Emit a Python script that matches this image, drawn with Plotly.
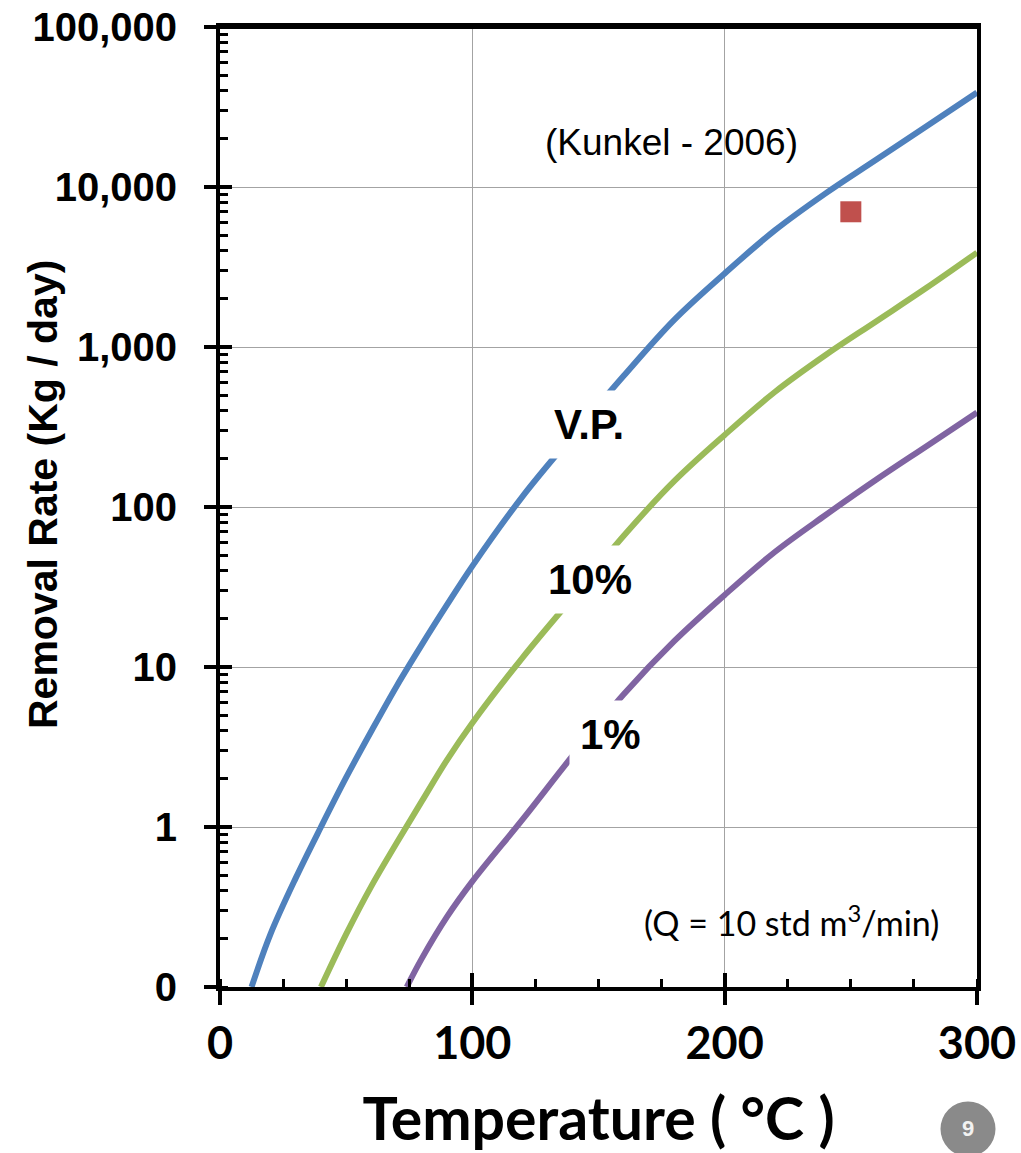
import math
import plotly.graph_objects as go

# ---- data ----
vp_temp = [12.5, 20, 30, 40, 50, 60, 70, 80, 90, 100, 120, 140, 160, 180, 200, 220, 240, 260, 280, 300]
vp_rate = [0.1, 0.214, 0.479, 1.0, 2.04, 3.98, 7.59, 13.8, 24.5, 42.7, 117, 282, 661, 1479, 2884,
           5370, 9120, 14790, 23990, 38900]

p10_temp = [40, 50, 60, 70, 80, 90, 100, 120, 140, 160, 180, 200, 220, 240, 260, 280, 300]
p10_rate = [0.1, 0.214, 0.427, 0.794, 1.45, 2.63, 4.47, 11.5, 27.5, 66.1, 145, 282, 525, 891,
            1445, 2344, 3890]

p1_temp = [74, 80, 90, 100, 120, 140, 160, 180, 200, 220, 240, 260, 280, 300]
p1_rate = [0.1, 0.151, 0.275, 0.457, 1.12, 2.82, 6.76, 14.5, 28.2, 52.5, 89.1, 148, 240, 389]

meas_temp = [250]
meas_rate = [7000]

y_tickvals = [0.1, 1, 10, 100, 1000, 10000, 100000]
x_tickvals = [0, 100, 200, 300]

label_text = ["V.P.", "10%", "1%"]
label_temp = [146.3, 146.5, 154.6]
label_rate = [330, 35, 3.8]

BLUE = "#4F81BD"
GREEN = "#9BBB59"
PURPLE = "#8064A2"
RED = "#C0504D"

ARIAL = "Liberation Sans, Arial, sans-serif"
CALIBRI = "Lato, sans-serif"

fig = go.Figure()
for xs, ys, col, name in [(vp_temp, vp_rate, BLUE, "V.P."),
                          (p10_temp, p10_rate, GREEN, "10%"),
                          (p1_temp, p1_rate, PURPLE, "1%")]:
    fig.add_trace(go.Scatter(x=xs, y=ys, mode="lines", name=name,
                             line=dict(color=col, width=6, shape="spline", smoothing=1.0),
                             showlegend=False))
fig.add_trace(go.Scatter(x=meas_temp, y=meas_rate, mode="markers", name="Measured",
                         marker=dict(symbol="square", size=21, color=RED, line=dict(width=0)),
                         showlegend=False))
# empty trace so the overlay axes (inner half of the crossing major ticks) are drawn
fig.add_trace(go.Scatter(x=[None], y=[None], xaxis="x2", yaxis="y2",
                         showlegend=False, hoverinfo="skip"))

fig.update_layout(
    width=1021, height=1153,
    margin=dict(l=220, r=44, t=27, b=166),
    paper_bgcolor="white", plot_bgcolor="white",
    xaxis=dict(range=[0, 300], tickvals=x_tickvals, ticks="outside", ticklen=14, tickwidth=4,
               tickcolor="black", showline=True, linewidth=4, linecolor="black", mirror=True,
               showgrid=True, gridcolor="#A3A3A3", gridwidth=1.2, zeroline=False,
               automargin=False, ticklabeloverflow="allow",
               tickfont=dict(family=CALIBRI, size=45, color="black", weight="bold"),
               ticklabelstandoff=0,
               minor=dict(dtick=25, tick0=0, ticks="inside", ticklen=8, tickwidth=3,
                          tickcolor="black", showgrid=False),
               title=dict(text="Temperature ( °C )", standoff=35,
                          font=dict(family=CALIBRI, size=59, color="black", weight="bold"))),
    yaxis=dict(type="log", range=[-1, 5], dtick=1, tick0=0, tickformat=",.0f",
               ticks="outside", ticklen=12, tickwidth=4, tickcolor="black",
               showline=True, linewidth=4, linecolor="black", mirror=True,
               showgrid=True, gridcolor="#A3A3A3", gridwidth=1.2, zeroline=False,
               automargin=False, ticklabeloverflow="allow",
               tickfont=dict(family=ARIAL, size=40, color="black", weight="bold"),
               ticklabelstandoff=19,
               minor=dict(dtick="D1", ticks="inside", ticklen=8, tickwidth=3,
                          tickcolor="black", showgrid=False)),
    xaxis2=dict(range=[0, 300], tickvals=x_tickvals, ticks="inside", ticklen=14, tickwidth=4,
                tickcolor="black", showline=False, showgrid=False, showticklabels=False,
                zeroline=False, overlaying="x", side="bottom", anchor="y2", automargin=False),
    yaxis2=dict(type="log", range=[-1, 5], tickvals=y_tickvals, ticks="inside", ticklen=12,
                tickwidth=4, tickcolor="black", showline=False, showgrid=False,
                showticklabels=False, zeroline=False, overlaying="y", side="left", anchor="x2",
                automargin=False),
)

# explicit top frame edge of the plot area
fig.add_shape(type="line", xref="paper", yref="paper", x0=0, x1=1, y0=1, y1=1,
              line=dict(color="black", width=4), layer="above")

# curve labels with white boxes
for txt, tx, ty in zip(label_text, label_temp, label_rate):
    fig.add_annotation(x=tx, y=math.log10(ty), xref="x", yref="y", text=txt,
                       showarrow=False, bgcolor="white", borderpad=10,
                       xanchor="center", yanchor="middle",
                       font=dict(family=ARIAL, size=42, color="black", weight="bold"))

fig.add_annotation(x=178.8, y=math.log10(18900), xref="x", yref="y",
                   text="(Kunkel - 2006)", showarrow=False, xanchor="center", yanchor="middle",
                   font=dict(family=ARIAL, size=37, color="black"))
fig.add_annotation(x=226.3, y=math.log10(0.26), xref="x", yref="y",
                   text="(Q = 10 std m<sup>3</sup>/min)", showarrow=False,
                   xanchor="center", yanchor="middle",
                   font=dict(family=CALIBRI, size=34, color="black"))

# pixel -> paper helpers for the slide-level items (plot area in pixels)
PL, PR, PT, PB = 220, 977, 27, 987
def px(x):
    return (x - PL) / (PR - PL)
def py(y):
    return (PB - y) / (PB - PT)

# y-axis title
fig.add_annotation(x=px(43), y=py(495), xref="paper", yref="paper",
                   text="Removal Rate (Kg / day)", textangle=-90, showarrow=False,
                   xanchor="center", yanchor="middle",
                   font=dict(family=ARIAL, size=41, color="black", weight="bold"))

# slide page-number badge
fig.add_shape(type="circle", xref="paper", yref="paper",
              x0=px(940.5), x1=px(995.5), y0=py(1156.5), y1=py(1101.5),
              fillcolor="#8A8A8A", line=dict(width=0))
fig.add_annotation(x=px(968), y=py(1128), xref="paper", yref="paper",
                   text="9", showarrow=False, xanchor="center", yanchor="middle",
                   font=dict(family=ARIAL, size=22, color="#F2F2F2", weight="bold"))

# remove the browser's default 8px page margin so the figure fills the window exactly
fig.write_html("out.html",
               config={"displayModeBar": False},
               post_script="document.body.style.margin='0';document.body.style.overflow='hidden';")
